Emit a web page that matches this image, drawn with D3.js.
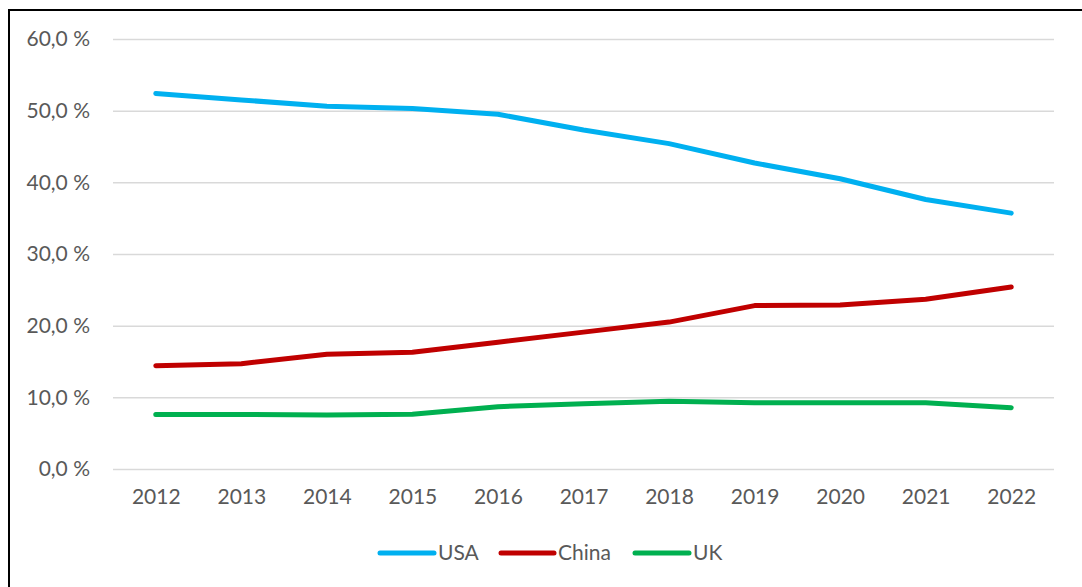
<!DOCTYPE html>
<html>
<head>
<meta charset="utf-8">
<script src="https://cdn.jsdelivr.net/npm/d3@7"></script>
<style>
  html, body { margin: 0; padding: 0; background: #fff; }
  svg { display: block; }
</style>
</head>
<body>
<svg id="chart" width="1082" height="587"></svg>
<script>
// Share by country, 2012–2022 (percent)
const years = ["2012","2013","2014","2015","2016","2017","2018","2019","2020","2021","2022"];
const usa   = [52.4, 51.5, 50.6, 50.3, 49.5, 47.3, 45.4, 42.7, 40.5, 37.6, 35.7];
const china = [14.4, 14.7, 16.0, 16.3, 17.7, 19.1, 20.5, 22.8, 22.9, 23.7, 25.4];
const uk    = [7.6, 7.6, 7.55, 7.65, 8.7, 9.1, 9.45, 9.25, 9.25, 9.25, 8.55];
const yTicks = [0, 10, 20, 30, 40, 50, 60];
const seriesNames = ["USA", "China", "UK"];
const seriesColors = ["#00B0F0", "#C00000", "#00B050"];

const series = [usa, china, uk].map((values, i) => ({
  name: seriesNames[i], color: seriesColors[i], values
}));

const svg = d3.select("#chart");
const font = "Lato, 'Open Sans', sans-serif";
const fontSize = "21px";
const textColor = "#595959";

// Outer frame
svg.append("rect")
  .attr("x", 9).attr("y", 10)
  .attr("width", 1090).attr("height", 600)
  .attr("fill", "#fff")
  .attr("stroke", "#000").attr("stroke-width", 2);

const plot = { left: 113, right: 1054, top: 39, bottom: 469 };

const x = d3.scalePoint()
  .domain(years)
  .range([plot.left, plot.right])
  .padding(0.5);

const y = d3.scaleLinear()
  .domain([0, 60])
  .range([plot.bottom, plot.top]);

// Horizontal gridlines and y labels
const yAxis = d3.axisLeft(y)
  .tickValues(yTicks)
  .tickSize(-(plot.right - plot.left))
  .tickPadding(23)
  .tickFormat(d => d3.format(".1f")(d).replace(".", ",") + " %");

const gy = svg.append("g")
  .attr("transform", `translate(${plot.left},0)`)
  .call(yAxis);
gy.select(".domain").remove();
gy.selectAll(".tick line").attr("stroke", "#D9D9D9").attr("stroke-width", 1.5);
gy.selectAll(".tick text")
  .attr("fill", textColor)
  .style("font-family", font)
  .style("font-size", fontSize);

// Category labels
const xAxis = d3.axisBottom(x).tickSize(0).tickPadding(20);
const gx = svg.append("g")
  .attr("transform", `translate(0,${plot.bottom})`)
  .call(xAxis);
gx.select(".domain").remove();
gx.selectAll(".tick text")
  .attr("fill", textColor)
  .style("font-family", font)
  .style("font-size", fontSize);

// Series lines
const line = d3.line()
  .x((d, i) => x(years[i]))
  .y(d => y(d));

svg.append("g").selectAll("path")
  .data(series)
  .join("path")
  .attr("d", d => line(d.values))
  .attr("fill", "none")
  .attr("stroke", d => d.color)
  .attr("stroke-width", 5)
  .attr("stroke-linecap", "round")
  .attr("stroke-linejoin", "round");

// Legend
const legendItems = [
  { x: 380, w: 54 },
  { x: 501, w: 53 },
  { x: 635, w: 54 }
];
const legend = svg.append("g").attr("transform", "translate(0,553)");
const items = legend.selectAll("g")
  .data(series)
  .join("g")
  .attr("transform", (d, i) => `translate(${legendItems[i].x},0)`);
items.append("line")
  .attr("x1", 0)
  .attr("x2", (d, i) => legendItems[i].w)
  .attr("y1", 0).attr("y2", 0)
  .attr("stroke", d => d.color)
  .attr("stroke-width", 5)
  .attr("stroke-linecap", "round");
items.append("text")
  .attr("x", (d, i) => legendItems[i].w + 4)
  .attr("y", 0)
  .attr("dy", "0.35em")
  .attr("fill", textColor)
  .style("font-family", font)
  .style("font-size", fontSize)
  .text(d => d.name);
</script>
</body>
</html>
